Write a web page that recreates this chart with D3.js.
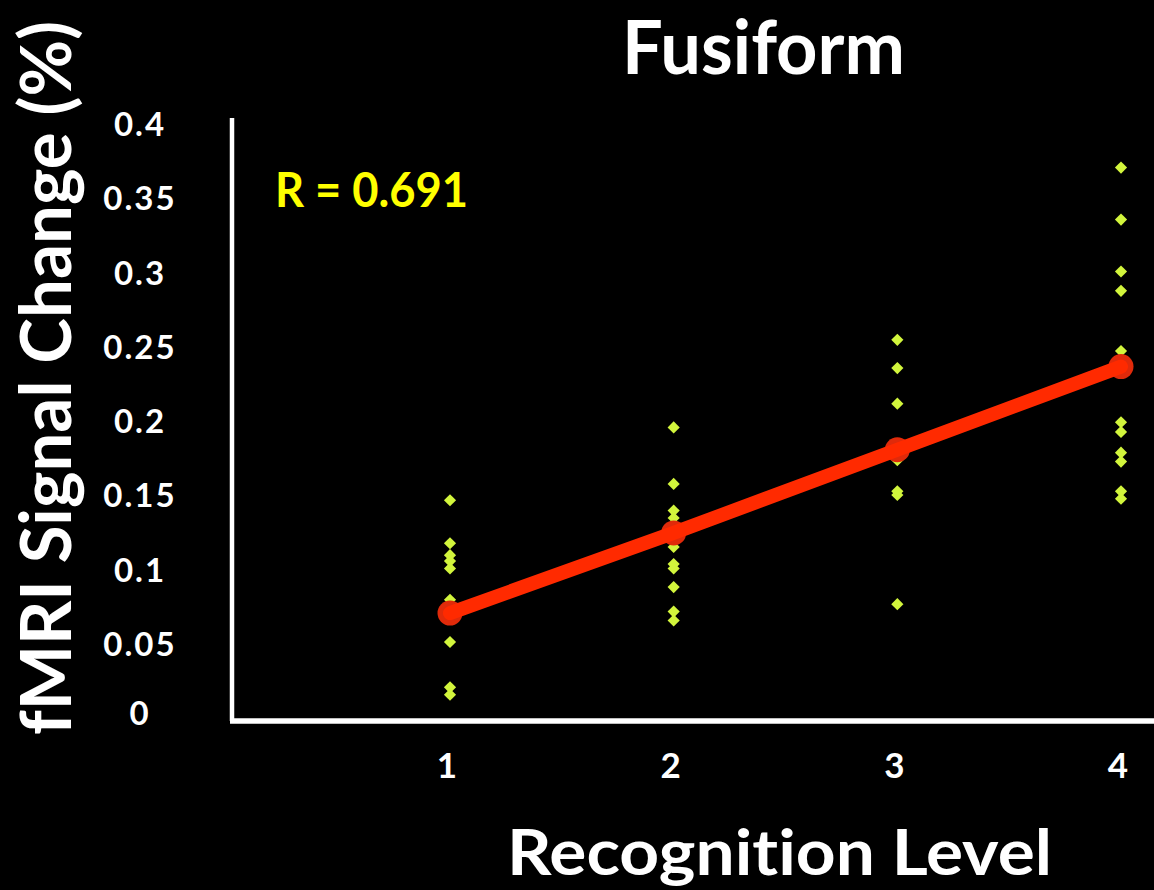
<!DOCTYPE html>
<html>
<head>
<meta charset="utf-8">
<script src="https://cdn.jsdelivr.net/npm/d3@7"></script>
<style>
  html, body { margin: 0; padding: 0; background: #000; }
  svg { display: block; }
  text { font-family: Lato, "Open Sans", sans-serif; font-weight: bold; font-variant-ligatures: none; }
</style>
</head>
<body>
<svg id="canvas"></svg>
<script>
// recognition levels on the x axis
let levels = [1, 2, 3, 4];

// individual subject values per level
let level1 = [0.148, 0.119, 0.111, 0.107, 0.102, 0.081, 0.0525, 0.022, 0.017];
let level2 = [0.197, 0.159, 0.141, 0.136, 0.1165, 0.105, 0.102, 0.0895, 0.073, 0.067];
let level3 = [0.256, 0.237, 0.213, 0.175, 0.154, 0.1515, 0.078];
let level4 = [0.372, 0.337, 0.302, 0.289, 0.2485, 0.2005, 0.194, 0.18, 0.174, 0.154, 0.149];

// group means
let means = [0.072, 0.126, 0.182, 0.238];

let yTicks = [0, 0.05, 0.1, 0.15, 0.2, 0.25, 0.3, 0.35, 0.4];
let yTickLabels = ['0', '0.05', '0.1', '0.15', '0.2', '0.25', '0.3', '0.35', '0.4'];

let w = 1154;
let h = 890;

let canvas = d3.select('#canvas').attr('width', w).attr('height', h);

let xScale = d3.scaleLinear().domain([1, 4]).range([450, 1121]);
let yScale = d3.scaleLinear().domain([0, 0.4]).range([720, 126]);

let left = 232;

// axis lines
canvas.append('line')
  .attr('x1', left).attr('x2', left)
  .attr('y1', yScale(0.4) - 8).attr('y2', yScale(0) + 1)
  .attr('stroke', '#fff').attr('stroke-width', 4.5);

canvas.append('line')
  .attr('x1', left - 2).attr('x2', w)
  .attr('y1', yScale(0) + 1).attr('y2', yScale(0) + 1)
  .attr('stroke', '#fff').attr('stroke-width', 5.5);

// tick labels
canvas.selectAll('.ytick')
  .data(yTicks)
  .enter()
  .append('text')
  .attr('class', 'ytick')
  .attr('x', 140)
  .attr('y', d => yScale(d) + (d === 0 ? 5 : 10))
  .attr('text-anchor', 'middle')
  .attr('fill', '#fff')
  .style('font-size', '33px')
  .style('letter-spacing', '2px')
  .text((d, i) => yTickLabels[i]);

canvas.selectAll('.xtick')
  .data(levels)
  .enter()
  .append('text')
  .attr('class', 'xtick')
  .attr('x', d => xScale(d) - 3)
  .attr('y', 778)
  .attr('text-anchor', 'middle')
  .attr('fill', '#fff')
  .style('font-size', '35px')
  .text(d => d);

// individual points
let points = [];
[level1, level2, level3, level4].forEach((arr, i) => {
  arr.forEach(v => points.push({level: levels[i], value: v}));
});

let diamond = d3.symbol().type(d3.symbolSquare).size(74);

canvas.selectAll('.pt')
  .data(points)
  .enter()
  .append('path')
  .attr('class', 'pt')
  .attr('d', diamond)
  .attr('transform', d => 'translate(' + xScale(d.level) + ',' + yScale(d.value) + ') rotate(45)')
  .attr('fill', '#d2f53c');

// means
let meanData = levels.map((l, i) => ({level: l, value: means[i]}));

canvas.selectAll('.mean')
  .data(meanData)
  .enter()
  .append('circle')
  .attr('class', 'mean')
  .attr('cx', d => xScale(d.level))
  .attr('cy', d => yScale(d.value))
  .attr('r', 12.5)
  .attr('fill', '#e02a0a');

let line = d3.line().x(d => xScale(d.level)).y(d => yScale(d.value));

canvas.append('path')
  .datum(meanData)
  .attr('d', line)
  .attr('fill', 'none')
  .attr('stroke', '#ff2a00')
  .attr('stroke-width', 14)
  .attr('stroke-linecap', 'round');

// texts
canvas.append('text')
  .attr('x', 622).attr('y', 74)
  .attr('fill', '#fff')
  .attr('textLength', 283).attr('lengthAdjust', 'spacingAndGlyphs')
  .style('font-size', '74px')
  .text('Fusiform');

canvas.append('text')
  .attr('x', 507).attr('y', 875)
  .attr('fill', '#fff')
  .attr('textLength', 545).attr('lengthAdjust', 'spacingAndGlyphs')
  .style('font-size', '64px')
  .text('Recognition Level');

canvas.append('text')
  .attr('transform', 'translate(71, 735) rotate(-90)')
  .attr('fill', '#fff')
  .attr('textLength', 714).attr('lengthAdjust', 'spacingAndGlyphs')
  .style('font-size', '71px')
  .text('fMRI Signal Change (%)');

canvas.append('text')
  .attr('x', 275).attr('y', 207)
  .attr('fill', '#ffff00')
  .attr('textLength', 193).attr('lengthAdjust', 'spacingAndGlyphs')
  .style('font-size', '47px')
  .text('R = 0.691');
</script>
</body>
</html>
